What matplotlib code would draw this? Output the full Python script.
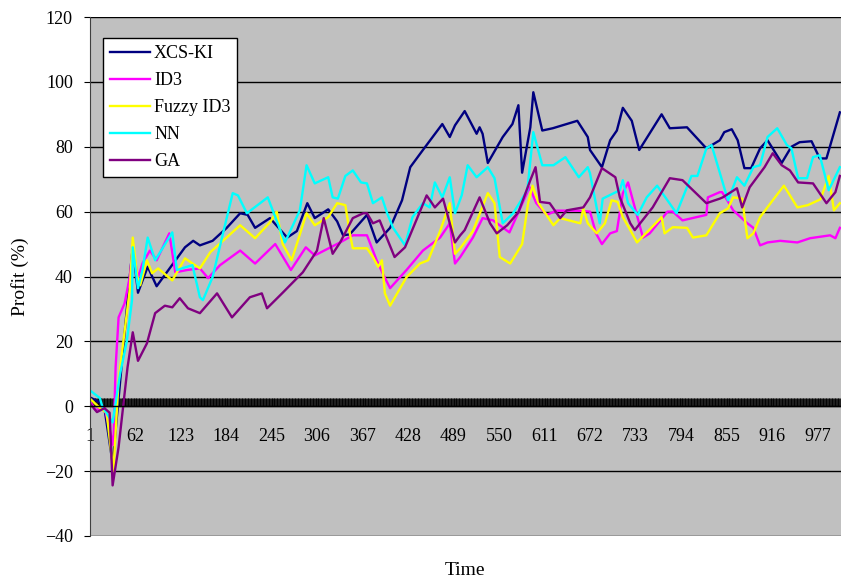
import matplotlib
matplotlib.use("Agg")
import matplotlib.pyplot as plt

plt.rcParams["font.family"] = ["Liberation Serif", "DejaVu Serif"]

# Time index and profit (%) for each method
XCS_T = [1, 15, 21, 32, 55, 59, 66, 79, 91, 129, 140, 149, 166, 185, 203, 213, 223,
         243, 266, 279, 293, 303, 321, 333, 341, 350, 373, 386, 404, 420, 431, 448,
         474, 484, 491, 504, 520, 524, 528, 535, 555, 568, 576, 581, 592, 596, 608,
         622, 655, 669, 672, 688, 699, 708, 716, 728, 738, 768, 779, 802, 828, 846,
         852, 862, 870, 879, 888, 900, 910, 929, 942, 953, 969, 980, 989, 1007]
XCS_V = [2.8, 1.2, -0.6, -17.6, 40, 49, 35, 43, 37, 49, 51, 49.6, 51, 55, 59.5, 59, 55,
         58, 52, 54, 62.6, 58, 60.7, 57, 52.7, 53, 59, 50.5, 55, 63.5, 73.7, 79,
         87, 83, 86.6, 91, 84, 86, 84, 75, 83, 87, 92.8, 72, 86, 96.8, 85,
         85.7, 88, 83, 79, 73.7, 82, 85, 92, 88, 79, 90, 85.7, 86, 79.5, 82,
         84.5, 85.4, 82, 73.4, 73.4, 79.5, 82, 75, 80, 81.4, 81.7, 76.4, 76.4, 90.6]

ID3_T = [1, 9, 21, 33, 36, 40, 48, 55, 59, 66, 72, 82, 91, 108, 116, 132, 149, 160,
         176, 203, 223, 250, 271, 291, 303, 337, 354, 373, 386, 394, 404, 426, 448,
         471, 484, 491, 498, 515, 528, 542, 564, 591, 600, 614, 627, 655, 672, 680,
         688, 699, 708, 716, 723, 743, 752, 776, 783, 796, 828, 830, 846, 849, 856,
         864, 883, 891, 900, 910, 927, 950, 967, 994, 1001, 1007]
ID3_V = [1.8, -1.2, -0.3, -12, 12, 27.4, 31.7, 39.8, 49, 39.5, 44, 48, 45, 53.3, 41.3,
         42, 42.5, 39.5, 43.5, 48, 44, 50, 42, 49, 46.5, 50.5, 52.7, 52.7, 45, 41,
         36.4, 42, 48, 52, 56.4, 44, 46, 52, 58, 57.3, 53.6, 67.5, 62.6, 59, 60.3,
         60.3, 60, 53.3, 50, 53.3, 54, 65.7, 69, 52, 53.3, 60, 60, 57.3, 59, 64.4,
         66, 66, 63.5, 60.4, 56.4, 55, 49.6, 50.5, 51, 50.5, 51.8, 52.7, 51.8, 55]

FUZZY_T = [1, 15, 24, 33, 40, 48, 55, 59, 65, 69, 78, 85, 93, 112, 129, 149, 163,
           203, 223, 243, 252, 260, 272, 292, 303, 321, 333, 344, 350, 354, 373, 381,
           388, 393, 397, 404, 426, 444, 455, 471, 484, 491, 498, 515, 535, 544, 551,
           565, 581, 589, 595, 603, 623, 632, 659, 663, 669, 681, 692, 701, 709, 716,
           726, 735, 768, 772, 783, 802, 810, 828, 846, 857, 864, 876, 883, 891, 900,
           917, 932, 950, 964, 981, 992, 999, 1007]
FUZZY_V = [2.5, -0.6, -2, -20, 8, 23, 36, 52, 40, 37.3, 45, 41, 42.5, 38.8, 45.6, 42.5,
           47.5, 55.8, 51.8, 56.7, 60, 50, 45, 59.5, 55.8, 58.3, 62.6, 62, 53.3, 48.7,
           48.7, 46, 43, 45, 34.8, 31, 39.8, 44, 45, 54, 62.6, 47, 48.7, 54, 65.7,
           62.6, 46, 44, 50, 62.6, 68, 62.6, 55.8, 58, 56.4, 61, 56.4, 53.3, 56.4,
           63.5, 63, 58.3, 54.3, 50.5, 58.3, 53.3, 55.2, 55, 52, 52.7, 59.5, 61, 64.4,
           64, 51.8, 53.3, 58.3, 63.5, 68, 61.3, 62, 63.8, 71, 60.4, 62.6]

NN_T = [1, 15, 18, 32, 42, 51, 58, 59, 66, 72, 79, 89, 112, 118, 139, 149, 153, 166,
        180, 193, 200, 212, 240, 263, 283, 292, 303, 321, 327, 334, 344, 354, 365,
        373, 381, 393, 400, 408, 424, 434, 448, 457, 464, 474, 484, 491, 500, 508,
        520, 535, 544, 555, 569, 588, 596, 608, 623, 639, 657, 669, 672, 685, 689,
        712, 716, 723, 736, 748, 762, 788, 808, 816, 828, 835, 857, 869, 879, 891,
        900, 910, 923, 936, 942, 951, 963, 971, 980, 992, 1007]
NN_V = [5, 2.5, 0, -5, 10, 20, 32.7, 49, 36.4, 42, 52, 45, 53.6, 42, 43.5, 33.6, 32.7,
        39.8, 53.3, 65.7, 65, 59.5, 64.4, 50.5, 60.4, 74.3, 68.7, 70.6, 64.4, 64, 71,
        72.7, 69, 68.7, 62.6, 64.4, 59.5, 55, 49.6, 58.3, 62.6, 61.3, 69, 64.4, 70.6,
        59.5, 65, 74.3, 70.6, 73.7, 70.3, 56.4, 59.5, 66.6, 84.5, 74.3, 74.3, 76.8,
        70.6, 73.7, 71.8, 56.4, 64, 66.6, 69.7, 62.6, 59, 64.4, 68, 59.5, 71, 71,
        79.5, 80.5, 63.5, 70.6, 68, 73.7, 74.3, 83, 85.7, 80.5, 79.5, 70.3, 70.3,
        76.8, 77.4, 66.6, 73.7]

GA_T = [1, 11, 21, 28, 32, 40, 52, 59, 66, 78, 89, 102, 112, 122, 133, 149, 172, 192,
        216, 232, 239, 260, 287, 306, 315, 327, 337, 354, 368, 373, 381, 390, 410,
        424, 453, 464, 475, 491, 498, 504, 524, 538, 547, 561, 576, 592, 599, 605,
        618, 632, 641, 663, 672, 688, 706, 712, 726, 732, 756, 779, 796, 810, 828,
        846, 850, 869, 876, 886, 906, 917, 929, 940, 951, 971, 989, 1001, 1007]
GA_V = [1, -1.8, -0.6, -2, -24.4, -12.6, 12, 22.8, 14, 19.4, 28.7, 31, 30.5, 33.3, 30.2,
        28.7, 34.8, 27.4, 33.6, 34.8, 30.2, 35, 41.3, 48, 58, 47, 50.5, 58, 59.5,
        59.5, 56.4, 57.3, 46, 49, 65, 61.3, 64, 50.5, 52.7, 54.3, 64.4, 56.4, 53.3,
        55.8, 59.8, 69.7, 73.7, 63, 62.6, 58, 60.4, 61.3, 64.4, 73.4, 70.6, 64.4,
        56.4, 54.3, 61.3, 70.3, 69.7, 66.6, 62.6, 64, 64.4, 67.2, 61.3, 67.5, 73.7,
        78, 74.3, 72.7, 69, 68.7, 62.6, 66, 71]

SERIES = [
    ("XCS-KI", XCS_T, XCS_V, "#000080"),
    ("ID3", ID3_T, ID3_V, "#FF00FF"),
    ("Fuzzy ID3", FUZZY_T, FUZZY_V, "#FFFF00"),
    ("NN", NN_T, NN_V, "#00FFFF"),
    ("GA", GA_T, GA_V, "#800080"),
]

X_LABELS = [1, 62, 123, 184, 245, 306, 367, 428, 489, 550, 611, 672, 733, 794, 855, 916, 977]
Y_TICKS = [-40, -20, 0, 20, 40, 60, 80, 100, 120]
N_POINTS = 1008


def main():
    fig = plt.figure(figsize=(8.41, 5.79), dpi=100)
    ax = fig.add_axes([89.5 / 841, 43 / 579, (841 - 89.5) / 841, 519 / 579])
    ax.set_facecolor("#C0C0C0")

    for name, t, v, color in SERIES:
        ax.plot(t, v, color=color, linewidth=1.7, label=name)

    ax.set_xlim(1, N_POINTS + 0.5)
    ax.set_ylim(-40, 120)
    ax.set_yticks(Y_TICKS)
    ax.grid(axis="y", color="black", linewidth=1.0)
    ax.set_axisbelow(True)

    # category axis crosses at zero, with a tick for every time step
    ax.spines["bottom"].set_position(("data", 0))
    ax.spines["bottom"].set_linewidth(1.0)
    ax.spines["top"].set_visible(False)
    ax.spines["right"].set_visible(False)
    ax.spines["left"].set_color("#404040")
    ax.set_xticks(X_LABELS)
    ax.set_xticklabels([str(x) for x in X_LABELS])
    ax.set_xticks(range(1, N_POINTS + 1), minor=True)
    ax.tick_params(axis="x", which="both", direction="in", length=6, width=0.6,
                   color="black", labelsize=13, pad=16)
    ax.tick_params(axis="y", direction="out", length=4, width=0.8, labelsize=13, pad=8)

    ax.set_xlabel("Time", fontsize=14)
    ax.xaxis.set_label_coords(0.5, -0.05)
    ax.set_ylabel("Profit (%)", fontsize=14)
    ax.yaxis.set_label_coords(-0.081, 0.5)

    leg = ax.legend(loc="upper left", bbox_to_anchor=(103 / 841, 1 - 38 / 579),
                    bbox_transform=fig.transFigure, borderaxespad=0, fontsize=13,
                    fancybox=False, framealpha=1, edgecolor="black",
                    handlelength=2.2, handletextpad=0.25, labelspacing=0.56,
                    borderpad=0.38)
    leg.get_frame().set_linewidth(1.0)

    fig.savefig("out.png", dpi=100)


if __name__ == "__main__":
    main()
